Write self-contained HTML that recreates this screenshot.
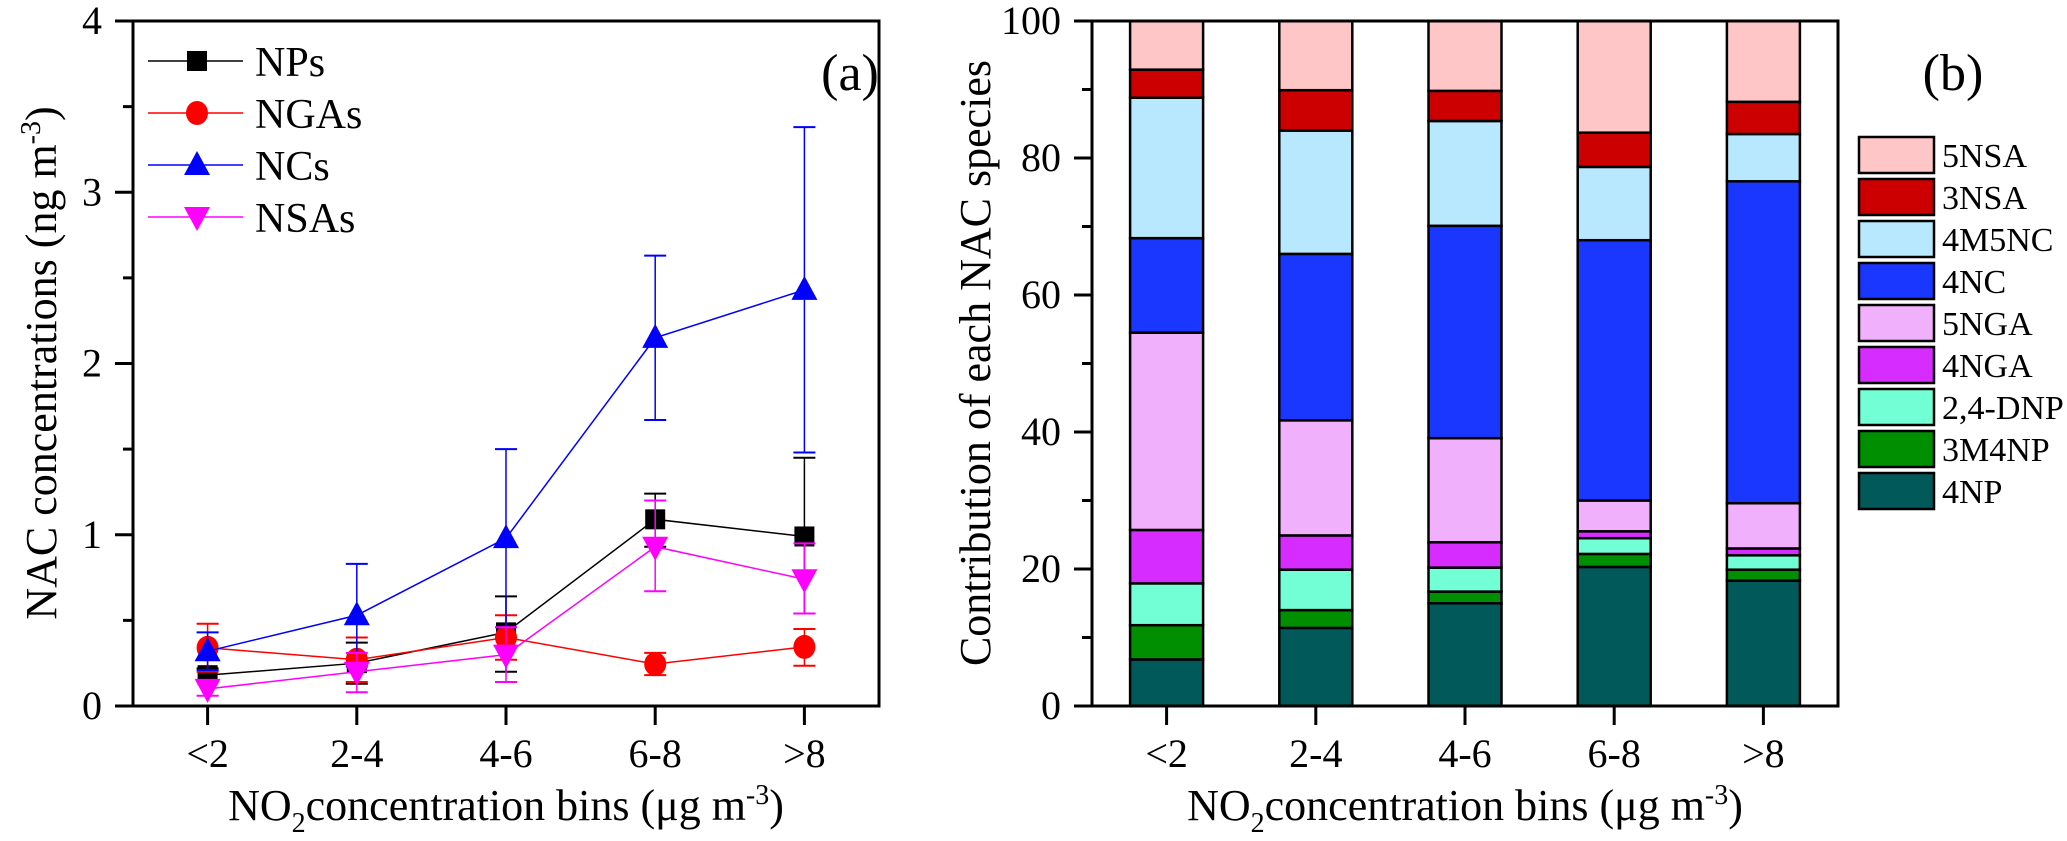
<!DOCTYPE html>
<html><head><meta charset="utf-8"><style>
html,body{margin:0;padding:0;background:#fff;}
svg{display:block;font-family:"Liberation Serif",serif;}
</style></head><body>
<svg id="fig" width="2067" height="841" viewBox="0 0 2067 841" xmlns="http://www.w3.org/2000/svg"></svg>
<script>
const categories = ["<2","2-4","4-6","6-8",">8"];
const seriesNames = ["NPs","NGAs","NCs","NSAs"];
const npsVals = [0.18,0.25,0.43,1.09,0.99];
const npsLo = [0.14,0.13,0.20,0.93,0.54];
const npsHi = [0.22,0.37,0.64,1.24,1.45];
const ngasVals = [0.34,0.27,0.40,0.245,0.345];
const ngasLo = [0.20,0.14,0.27,0.18,0.235];
const ngasHi = [0.48,0.40,0.53,0.31,0.45];
const ncsVals = [0.32,0.53,0.98,2.15,2.43];
const ncsLo = [0.21,0.23,0.46,1.67,1.48];
const ncsHi = [0.43,0.83,1.50,2.63,3.38];
const nsasVals = [0.10,0.20,0.30,0.93,0.74];
const nsasLo = [0.06,0.08,0.14,0.67,0.54];
const nsasHi = [0.14,0.31,0.46,1.20,0.95];
const leftTicks = [0,1,2,3,4];
const speciesNames = ["4NP","3M4NP","2,4-DNP","4NGA","5NGA","4NC","4M5NC","3NSA","5NSA"];
const s4NP   = [6.8,11.4,15.0,20.3,18.3];
const s3M4NP = [5.0,2.6,1.7,1.9,1.6];
const sDNP   = [6.1,5.9,3.5,2.3,2.1];
const s4NGA  = [7.8,5.0,3.7,1.0,1.0];
const s5NGA  = [28.8,16.8,15.2,4.5,6.6];
const s4NC   = [13.8,24.3,31.0,38.0,47.0];
const s4M5NC = [20.5,18.0,15.3,10.7,6.9];
const s3NSA  = [4.1,5.9,4.4,5.0,4.7];
const s5NSA  = [7.1,10.1,10.2,16.3,11.8];
const rightTicks = [0,20,40,60,80,100];

const NS="http://www.w3.org/2000/svg";
const svg=document.getElementById('fig');
function el(tag,attrs,parent){const e=document.createElementNS(NS,tag);for(const k in attrs)e.setAttribute(k,attrs[k]);(parent||svg).appendChild(e);return e;}

// ---------- Left chart ----------
const L={x0:133,x1:879,y0:706,y1:21,max:4};
const lx=i=>L.x0+(L.x1-L.x0)/categories.length*(i+0.5);
const ly=v=>L.y0-(L.y0-L.y1)*v/L.max;
const gL=el('g',{});


const fL=el('rect',{x:L.x0,y:L.y1,width:L.x1-L.x0,height:L.y0-L.y1,fill:'none',stroke:'#000','stroke-width':3},gL);


for(let v=0;v<=4;v+=0.5){
  const major=Number.isInteger(v);
  el('line',{x1:L.x0-(major?18:10),x2:L.x0,y1:ly(v),y2:ly(v),stroke:'#000','stroke-width':3},gL);
}
leftTicks.forEach(v=>{const t=el('text',{x:L.x0-31,y:ly(v)+13,'text-anchor':'end','font-size':40},gL);t.textContent=v;

});
categories.forEach((c,i)=>{
  el('line',{x1:lx(i),x2:lx(i),y1:L.y0,y2:L.y0+19,stroke:'#000','stroke-width':3},gL);
  const t=el('text',{x:lx(i),y:767,'text-anchor':'middle','font-size':40},gL);t.textContent=c;
  
  
});
const cols=['#000','#ff0000','#0000ff','#ff00ff'];
const vals=[npsVals,ngasVals,ncsVals,nsasVals];
const los=[npsLo,ngasLo,ncsLo,nsasLo];
const his=[npsHi,ngasHi,ncsHi,nsasHi];
function marker(k,x,y,g){
  if(k===0) return el('rect',{x:x-10,y:y-10,width:20,height:20,fill:'#000'},g);
  if(k===1) return el('ellipse',{cx:x,cy:y,rx:11,ry:12,fill:'#ff0000'},g);
  if(k===2) return el('polygon',{points:`${x},${y-14} ${x-13},${y+10} ${x+13},${y+10}`,fill:'#0000ff'},g);
  return el('polygon',{points:`${x},${y+14} ${x-13},${y-10} ${x+13},${y-10}`,fill:'#ff00ff'},g);
}
vals.forEach((arr,k)=>{
  const g=el('g',{},gL);
  
  
  arr.forEach((v,i)=>{
    el('line',{x1:lx(i),x2:lx(i),y1:ly(los[k][i]),y2:ly(his[k][i]),stroke:cols[k],'stroke-width':1.5},g);
    [los[k][i],his[k][i]].forEach(e=>el('line',{x1:lx(i)-11,x2:lx(i)+11,y1:ly(e),y2:ly(e),stroke:cols[k],'stroke-width':2},g));
  });
  el('polyline',{points:arr.map((v,i)=>lx(i)+','+ly(v)).join(' '),fill:'none',stroke:cols[k],'stroke-width':1.5},g);
  arr.forEach((v,i)=>{const m=marker(k,lx(i),ly(v),g);
    
    });
});
seriesNames.forEach((n,k)=>{
  const y=61+k*52;
  const g=el('g',{},gL);
  
  
  el('line',{x1:148,x2:243,y1:y,y2:y,stroke:cols[k],'stroke-width':1.5},g);
  marker(k,197,y,g);
  const t=el('text',{x:255,y:y+15,'font-size':42},g);t.textContent=n;
});
const ta=el('text',{x:850,y:90,'text-anchor':'middle','font-size':52},gL);ta.textContent='(a)';


const yt=el('text',{transform:'translate(56,363) rotate(-90)','text-anchor':'middle','font-size':44},gL);
yt.innerHTML='NAC concentrations (ng m<tspan dy="-16" font-size="28">-3</tspan><tspan dy="16">)</tspan>';


const xt=el('text',{x:506,y:820,'text-anchor':'middle','font-size':44},gL);
xt.innerHTML='NO<tspan dy="12" font-size="28">2</tspan><tspan dy="-12">concentration bins (μg m</tspan><tspan dy="-16" font-size="28">-3</tspan><tspan dy="16">)</tspan>';



// ---------- Right chart ----------
const R={x0:1092,x1:1838,y0:706,y1:21,max:100};
const rx=i=>R.x0+(R.x1-R.x0)/categories.length*(i+0.5);
const ry=v=>R.y0-(R.y0-R.y1)*v/R.max;
const gR=el('g',{});


const stacks=[s4NP,s3M4NP,sDNP,s4NGA,s5NGA,s4NC,s4M5NC,s3NSA,s5NSA];
const scol=['#025959','#008f00','#72ffd6','#d62cff','#f0b0fc','#1a37ff','#b8e8fd','#cc0000','#ffc6c8'];
categories.forEach((c,i)=>{
  let cum=0;
  stacks.forEach((arr,k)=>{
    const b=el('rect',{x:rx(i)-36.5,y:ry(cum+arr[i]),width:73,height:ry(cum)-ry(cum+arr[i]),fill:scol[k],stroke:'#000','stroke-width':2.5},gR);
    
    
    cum+=arr[i];
  });
});
const fR=el('rect',{x:R.x0,y:R.y1,width:R.x1-R.x0,height:R.y0-R.y1,fill:'none',stroke:'#000','stroke-width':3},gR);


for(let v=0;v<=100;v+=10){
  const major=v%20===0;
  el('line',{x1:R.x0-(major?18:10),x2:R.x0,y1:ry(v),y2:ry(v),stroke:'#000','stroke-width':3},gR);
}
rightTicks.forEach(v=>{const t=el('text',{x:R.x0-31,y:ry(v)+13,'text-anchor':'end','font-size':40},gR);t.textContent=v;

});
categories.forEach((c,i)=>{
  el('line',{x1:rx(i),x2:rx(i),y1:R.y0,y2:R.y0+19,stroke:'#000','stroke-width':3},gR);
  const t=el('text',{x:rx(i),y:767,'text-anchor':'middle','font-size':40},gR);t.textContent=c;
  
  
});
for(let k=8;k>=0;k--){
  const y=137+(8-k)*42;
  const g=el('g',{},gR);
  
  
  el('rect',{x:1859,y:y,width:75,height:36,fill:scol[k],stroke:'#000','stroke-width':2.5},g);
  const t=el('text',{x:1942,y:y+30,'font-size':34},g);t.textContent=speciesNames[k];
}
const tb=el('text',{x:1953,y:90,'text-anchor':'middle','font-size':52},gR);tb.textContent='(b)';


const yt2=el('text',{transform:'translate(990,363) rotate(-90)','text-anchor':'middle','font-size':44},gR);
yt2.textContent='Contribution of each NAC species';


const xt2=el('text',{x:1465,y:820,'text-anchor':'middle','font-size':44},gR);
xt2.innerHTML='NO<tspan dy="12" font-size="28">2</tspan><tspan dy="-12">concentration bins (μg m</tspan><tspan dy="-16" font-size="28">-3</tspan><tspan dy="16">)</tspan>';


</script>
</body></html>
